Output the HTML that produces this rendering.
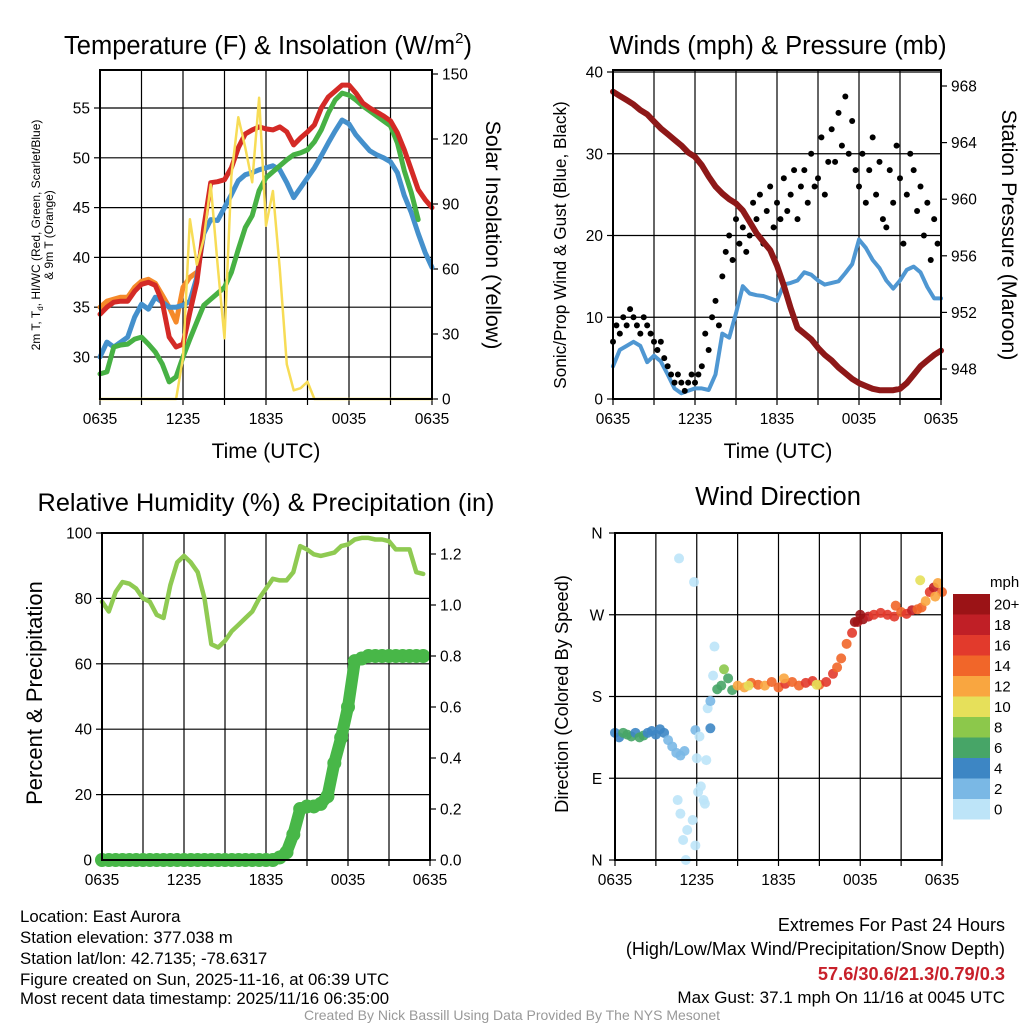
<!DOCTYPE html>
<html><head><meta charset="utf-8">
<style>
html,body{margin:0;padding:0;background:#fff;}
svg{display:block;font-family:"Liberation Sans",Arial,sans-serif;}
</style></head>
<body>
<svg id="chart" width="1024" height="1024" viewBox="0 0 1024 1024" xmlns="http://www.w3.org/2000/svg">
<rect width="1024" height="1024" fill="#fff"/>
<text x="268" y="54" font-size="25.5" text-anchor="middle">Temperature (F) &amp; Insolation (W/m<tspan font-size="15" dy="-11">2</tspan><tspan dy="11">)</tspan></text>
<text x="778" y="54" font-size="25.5" text-anchor="middle">Winds (mph) &amp; Pressure (mb)</text>
<text x="266" y="511" font-size="25.3" text-anchor="middle">Relative Humidity (%) &amp; Precipitation (in)</text>
<text x="778" y="505" font-size="25.5" text-anchor="middle">Wind Direction</text>

<text x="266" y="458" font-size="21" text-anchor="middle">Time (UTC)</text>
<text x="778" y="458" font-size="21" text-anchor="middle">Time (UTC)</text>

<g font-size="12" text-anchor="middle">
<text transform="translate(40,235) rotate(-90)">2m T, T<tspan font-size="8" dy="3">d</tspan><tspan dy="-3">, HI/WC (Red, Green, Scarlet/Blue)</tspan></text>
<text transform="translate(53,235) rotate(-90)">&amp; 9m T (Orange)</text>
</g>
<text transform="translate(486,235) rotate(90)" font-size="21.4" text-anchor="middle">Solar Insolation (Yellow)</text>
<text transform="translate(566,245) rotate(-90)" font-size="17.2" text-anchor="middle">Sonic/Prop Wind &amp; Gust (Blue, Black)</text>
<text transform="translate(1002,235) rotate(90)" font-size="21.4" text-anchor="middle">Station Pressure (Maroon)</text>
<text transform="translate(42,693) rotate(-90)" font-size="22" text-anchor="middle">Percent &amp; Precipitation</text>
<text transform="translate(568,694) rotate(-90)" font-size="18.3" text-anchor="middle">Direction (Colored By Speed)</text>

<g font-size="16.8">
<text x="20" y="922">Location: East Aurora</text>
<text x="20" y="943">Station elevation: 377.038 m</text>
<text x="20" y="964">Station lat/lon: 42.7135; -78.6317</text>
<text x="20" y="985">Figure created on Sun, 2025-11-16, at 06:39 UTC</text>
<text x="20" y="1004">Most recent data timestamp: 2025/11/16 06:35:00</text>
</g>
<g font-size="18" text-anchor="end">
<text x="1005" y="931">Extremes For Past 24 Hours</text>
<text x="1005" y="955">(High/Low/Max Wind/Precipitation/Snow Depth)</text>
<text x="1005" y="980" fill="#c8202a" font-weight="bold" font-size="18.2">57.6/30.6/21.3/0.79/0.3</text>
<text x="1005" y="1003" font-size="17">Max Gust: 37.1 mph On 11/16 at 0045 UTC</text>
</g>
<text x="512" y="1020" font-size="14" fill="#999" text-anchor="middle">Created By Nick Bassill Using Data Provided By The NYS Mesonet</text>
</svg>
<script>
// ---- data (time in hours since 0635 UTC; 0.5 h steps unless noted) ----
const timeLabels = ["0635","1235","1835","0035","0635"];
const tempRed = [34.3,35,35.5,35.6,35.6,36.6,37.3,37.5,37.2,35.5,32,31,31.3,34.5,37.5,43,47.5,47.6,47.8,49,51,52.4,52.8,53.1,52.9,52.8,53.1,52.6,51.3,52,52.6,53.3,55,56.1,56.7,57.3,57.3,56.5,55.5,55,54.6,54.2,53.7,52.5,50.8,48.8,46.8,45.8,45];
const tempOrange = [35,35.6,35.8,36,36,37,37.6,37.8,37.4,36.2,35,33.5,37,38,38.5];
const tempGreen = [28.3,28.5,31,31.2,31.3,31.8,32,31.3,30.5,29.3,27.5,28,30,31.8,33.5,35.2,35.8,36.4,37,38.5,40.8,43,44.2,46.7,48,48.6,49.2,49.8,50.3,50.5,50.8,51.6,52.8,54.5,55.8,56.5,56.3,55.8,55.2,54.7,54.2,53.7,53.2,51.5,48.7,46.5,43.8];
const tempBlue = [30,31.5,31,31.5,32,34,35.3,34.8,36,35.5,35,35,35.2,35.6,38,42.4,43.8,43.7,45,46.3,47.7,48.3,48.5,48.8,49,49.2,48.8,47.5,46,47,48,49,50.2,51.5,52.7,53.8,53.4,52.3,51.5,50.7,50.3,50,49.6,48.5,46.2,44.5,42.4,40.5,39];
const solar = [0,0,0,0,0,0,0,0,0,0,0,0,19,83,62,74,99,62,28,103,130,116,100,139,80,96,60,16,4,5,8,0,0,0,0,0,0,0,0,0,0,0,0,0,0,0,0,0,0];
const windSust = [4,6,6.5,7,6.5,4.5,5.3,4.6,3,1.3,0.7,1,1.3,1.3,1.1,3,8,7.5,10.5,13.8,12.9,12.7,12.6,12.3,12,14,14.2,14.5,15.5,15.2,14.5,14,14.2,14.4,15.4,16.5,19.5,18.5,17,16,14.5,13.5,14.5,15.8,16.2,15.5,13.7,12.3,12.3];
// gusts every 0.25 h
const windGust = [7,9,8,10,9,11,10,9, 8,10,9,8,7,6,7,5, 4,3,2,3,2,1,2,3, 2,3,4,8,6,10,12,9, 15,18,20,17,22,19,21,18, 20,24,22,25,19,23,26,21, 24,22,27,23,25,28,22,26, 28,24,30,26,27,32,25,29, 33,29,35,31,37,30,34,28, 26,30,24,28,32,25,29,22, 21,28,24,31,27,19,25,30, 28,23,26,20,24,17,22,19];
const pressure = [967.6,967.3,967.0,966.7,966.3,966,965.5,965,964.6,964.2,963.8,963.3,963,962.4,961.6,960.9,960.4,960,959.7,959.2,958.4,957.6,957.0,956.4,955.3,953.9,952.3,950.9,950.5,950.1,949.5,949,948.6,948.1,947.7,947.3,947,946.8,946.6,946.5,946.5,946.5,946.6,947,947.6,948.2,948.6,949,949.3];
const rh = [79,76,82,85,84.5,83,80,79,75,74,84,91,93,91,88,80,66,65,67,70,72,74,76,80,83,86,85.5,85.5,88,96,95,93.5,93,93.5,94,96,96.5,98,98.5,98.5,98,98,97.5,95,95,95,88,87.5];
const precip = [0,0,0,0,0,0,0,0,0,0,0,0,0,0,0,0,0,0,0,0,0,0,0,0,0,0,0.01,0.03,0.1,0.2,0.21,0.21,0.22,0.25,0.38,0.48,0.6,0.78,0.79,0.8,0.8,0.8,0.8,0.8,0.8,0.8,0.8,0.8];
// wind direction: hours, degrees, speed (mph)
const dirHours = [0,0.3,0.6,0.9,1.2,1.5,1.8,2.1,2.4,2.7,3.0,3.3,3.6,3.9,4.2,4.5,4.8,5.1,4.6,4.8,5.0,5.2,5.3,5.7,5.9,6.1,6.3,6.5,6.6,6.8,7.0,7.2,7.3,5.9,6.2,5.8,4.7,6.0,6.7,7.0,7.5,7.8,8.0,8.3,8.6,9.0,9.5,10.0,10.5,11.0,11.5,12.0,12.5,13.0,13.5,14.0,14.5,15.0,15.5,16.0,16.3,16.6,17.0,17.4,17.8,18.2,18.6,19.0,19.5,20.0,20.5,21.0,21.4,21.8,22.2,22.5,22.8,23.1,23.4,23.7,24.0,9.8,12.4,14.8,17.6,18.0,20.6,22.4,23.5];
const dirDeg = [140,135,140,138,136,140,135,137,140,142,138,144,140,132,125,118,115,120,66,51,22,0,33,44,16,75,81,66,62,167,175,203,235,143,136,306,332,112,110,145,188,192,210,200,187,192,190,195,193,192,196,190,194,196,192,195,197,193,196,205,212,222,238,250,262,265,268,270,272,270,268,273,271,275,276,278,285,295,300,305,295,192,200,193,262,270,280,308,290];
const dirSpeed = [4,5,6,6,6,5,6,6,5,4,5,4,4,3,2,2,2,2,1,1,1,1,1,1,1,1,1,1,1,1,2,1,1,2,1,1,0,1,1,4,7,7,8,6,7,13,13,15,14,13,15,14,16,15,14,16,16,15,16,16,14,15,14,16,18,20,19,17,16,17,16,15,16,18,15,14,13,16,18,12,14,10,12,11,21,21,14,10,13];
const cbLabels = ["20+","18","16","14","12","10","8","6","4","2","0"];
const cbColors = ["#9b1316","#c01f26","#e23a2c","#f16629","#f9a640","#e6e05a","#8cc84b","#47a567","#3d86c4","#7ab8e5","#bde4f8"];

// ---- helpers ----
const svg = document.getElementById('chart');
const NS = 'http://www.w3.org/2000/svg';
const TF = 15.5;
function mk(tag, attrs, parent){ const e=document.createElementNS(NS,tag); for(const k in attrs) e.setAttribute(k,attrs[k]); (parent||svg).appendChild(e); return e; }
function lin(d0,d1,r0,r1){ return v => r0+(v-d0)*(r1-r0)/(d1-d0); }
function poly(vals, step, xs, ys, color, w, name, parent){
  const pts = vals.map((v,i)=>xs(i*step).toFixed(1)+','+ys(v).toFixed(1)).join(' ');
  const p = mk('polyline',{points:pts,fill:'none',stroke:color,'stroke-width':w,'stroke-linejoin':'round','stroke-linecap':'round'},parent);
  
  
  return p;
}
function frame(L,T,R,B,name,xs){
  const g = mk('g',{});
  
  
  for(let h=3;h<24;h+=3){ mk('line',{x1:xs(h),x2:xs(h),y1:T,y2:B,stroke:'#000','stroke-width':1.2},g); }
  for(let h=0;h<=24;h+=3){ mk('line',{x1:xs(h),x2:xs(h),y1:B,y2:B+6,stroke:'#000','stroke-width':1.2},g); }
  timeLabels.forEach((t,i)=>{
    const tx = mk('text',{x:xs(i*6),y:B+25,'font-size':TF,'text-anchor':'middle'},g);
    tx.textContent=t;
    
    
  });
  return g;
}
function yTicks(g, vals, ys, x, side, L, R, grid, fmt){
  vals.forEach(v=>{
    const y=ys(v);
    if(grid) mk('line',{x1:L,x2:R,y1:y,y2:y,stroke:'#000','stroke-width':1.2},g);
    mk('line',{x1:x,x2:x+(side<0?-6:6),y1:y,y2:y,stroke:'#000','stroke-width':1.2},g);
    const t=mk('text',{x:x+(side<0?-10:10),y:y+5.5,'font-size':TF,'text-anchor':side<0?'end':'start'},g);
    t.textContent = fmt?fmt(v):v;
    
    
  });
}
function border(g,L,T,R,B){ mk('rect',{x:L,y:T,width:R-L,height:B-T,fill:'none',stroke:'#000','stroke-width':2},g); }

// ---- Panel 1: temperature ----
(function(){
  const L=100,T=70,R=432,B=399;
  const xs=lin(0,24,L,R), ys=lin(30,55,357,108), ys2=lin(0,150,399,74);
  const g=frame(L,T,R,B,'temp-panel',xs);
  yTicks(g,[30,35,40,45,50,55],ys,L,-1,L,R,true);
  yTicks(g,[0,30,60,90,120,150],ys2,R,1,L,R,false);
  poly(tempOrange,0.5,xs,ys,'#f58a2a',5,'temp-9m-line',g);
  poly(tempBlue,0.5,xs,ys,'#4490cc',5,'windchill-line',g);
  poly(tempGreen,0.5,xs,ys,'#47b144',5,'dewpoint-line',g);
  poly(tempRed,0.5,xs,ys,'#d42a26',5,'temp-2m-line',g);
  poly(solar,0.5,xs,ys2,'#f7dc56',2.5,'solar-line',g);
  border(g,L,T,R,B);
})();

// ---- Panel 2: winds & pressure ----
(function(){
  const L=613,T=70,R=941,B=399;
  const xs=lin(0,24,L,R), ys=lin(0,40,399,72), ys2=lin(948,968,369,86);
  const g=frame(L,T,R,B,'wind-panel',xs);
  yTicks(g,[0,10,20,30,40],ys,L,-1,L,R,true);
  yTicks(g,[948,952,956,960,964,968],ys2,R,1,L,R,false);
  poly(windSust,0.5,xs,ys,'#4f97d2',4,'sustained-wind-line',g);
  windGust.forEach((v,i)=>{
    const c=mk('circle',{cx:xs(i*0.25),cy:ys(v),r:3,fill:'#000'},g);
    
    
  });
  poly(pressure,0.5,xs,ys2,'#8e1818',6,'pressure-line',g);
  border(g,L,T,R,B);
})();

// ---- Panel 3: RH & precip ----
(function(){
  const L=102,T=533,R=430,B=860;
  const xs=lin(0,24,L,R), ys=lin(0,100,860,533), ys2=lin(0,1.2,860,554);
  const g=frame(L,T,R,B,'rh-panel',xs);
  yTicks(g,[0,20,40,60,80,100],ys,L,-1,L,R,true);
  yTicks(g,[0,0.2,0.4,0.6,0.8,1.0,1.2],ys2,R,1,L,R,false,v=>v.toFixed(1));
  poly(rh,0.5,xs,ys,'#8fca52',4.5,'rh-line',g);
  poly(precip,0.5,xs,ys2,'#48b748',12,'precip-line',g);
  precip.forEach((v,i)=>{
    const c=mk('circle',{cx:xs(i*0.5),cy:ys2(v),r:7,fill:'#48b748'},g);
    
    
  });
  border(g,L,T,R,B);
})();

// ---- Panel 4: wind direction ----
(function(){
  const L=615,T=533,R=942,B=860;
  const xs=lin(0,24,L,R), ys=lin(0,360,860,533);
  const g=frame(L,T,R,B,'wdir-panel',xs);
  const dl=["N","E","S","W","N"];
  [0,90,180,270,360].forEach((v,i)=>{
    const y=ys(v);
    mk('line',{x1:L,x2:R,y1:y,y2:y,stroke:'#000','stroke-width':1.2},g);
    mk('line',{x1:L,x2:L-6,y1:y,y2:y,stroke:'#000','stroke-width':1.2},g);
    const t=mk('text',{x:L-18,y:y+5.5,'font-size':TF,'text-anchor':'middle'},g);
    t.textContent=dl[i];
    
    
  });
  function col(s){ const idx=Math.min(10,Math.floor(s/2)); return cbColors[10-idx]; }
  dirHours.forEach((h,i)=>{
    const c=mk('circle',{cx:xs(h),cy:ys(dirDeg[i]),r:5,fill:col(dirSpeed[i]),'fill-opacity':0.9},g);
    
    
  });
  border(g,L,T,R,B);
  // colorbar
  const cb=mk('g',{});
  
  
  const t0=mk('text',{x:990,y:587,'font-size':15},cb); t0.textContent='mph';
  cbLabels.forEach((lab,i)=>{
    const y=594+i*20.5;
    const r=mk('rect',{x:953,y:y,width:37,height:20.5,fill:cbColors[i]},cb);
    
    
    const t=mk('text',{x:994,y:y+15.5,'font-size':15},cb);
    t.textContent=lab;
    
    
  });
})();
</script>
</body></html>
